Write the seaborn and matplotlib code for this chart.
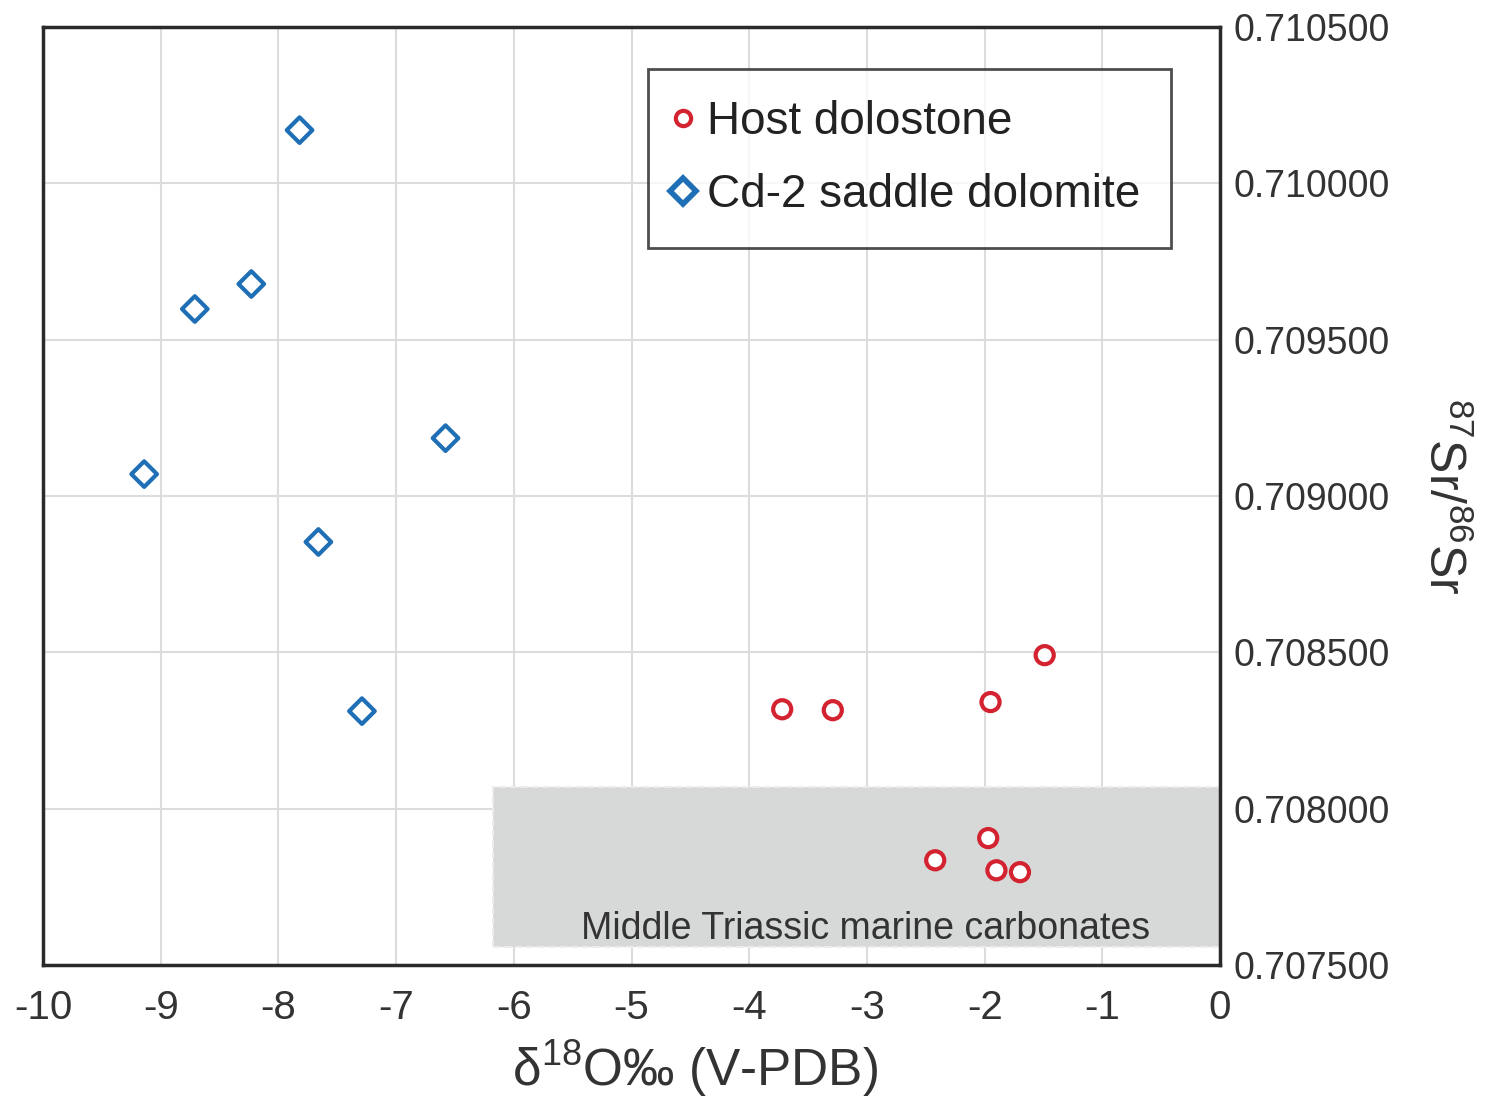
import numpy as np
import pandas as pd
import matplotlib
matplotlib.use("Agg")
import matplotlib.pyplot as plt
import seaborn as sns
from matplotlib.patches import Rectangle
from matplotlib.lines import Line2D

# Data
host_d18o = [-3.72, -3.29, -1.95, -1.49, -1.97, -2.42, -1.90, -1.70]
host_sr = [0.708318, 0.708315, 0.708341, 0.708491, 0.707906, 0.707835, 0.707803, 0.707797]
saddle_d18o = [-9.14, -8.71, -8.23, -7.82, -7.66, -7.29, -6.58]
saddle_sr = [0.709070, 0.709598, 0.709678, 0.710170, 0.708853, 0.708312, 0.709185]
groups = ["Host dolostone", "Cd-2 saddle dolomite"]
x_ticks = [-10, -9, -8, -7, -6, -5, -4, -3, -2, -1, 0]
y_ticks = [0.7075, 0.708, 0.7085, 0.709, 0.7095, 0.71, 0.7105]
band_x = [-6.18, 0.0]
band_y = [0.707557, 0.708069]
band_label = "Middle Triassic marine carbonates"

df = pd.DataFrame({
    "d18O": host_d18o + saddle_d18o,
    "Sr": host_sr + saddle_sr,
    "group": [groups[0]] * len(host_d18o) + [groups[1]] * len(saddle_d18o),
})

sns.set_theme(style="white")
plt.rcParams["font.family"] = ["Liberation Sans", "DejaVu Sans"]
plt.rcParams["mathtext.fontset"] = "custom"
plt.rcParams["mathtext.rm"] = "Liberation Sans"
plt.rcParams["mathtext.it"] = "Liberation Sans"
plt.rcParams["mathtext.bf"] = "Liberation Sans"

fig = plt.figure(figsize=(14.91, 10.96), dpi=100)
ax = fig.add_axes([0.0288, 0.1195, 0.7895, 0.8559])

ax.set_xlim(-10, 0)
ax.set_ylim(0.7075, 0.7105)
ax.set_xticks(x_ticks)
ax.set_yticks(y_ticks)
ax.grid(True, color="#dcdcdc", lw=1.5, zorder=0)
ax.set_axisbelow(True)

ax.add_patch(Rectangle((band_x[0], band_y[0]), band_x[1] - band_x[0], band_y[1] - band_y[0],
                       facecolor="#d7d9d9", edgecolor="#ececec", ls="--", lw=1.5, zorder=1))
ax.text((band_x[0] + band_x[1]) / 2 + 0.08, band_y[0] + 0.000027, band_label,
        ha="center", va="baseline", fontsize=27, color="#333333", zorder=2)

palette = {groups[0]: "#d42330", groups[1]: "#1f6fb6"}
markers = {groups[0]: "o", groups[1]: "D"}
sns.scatterplot(data=df, x="d18O", y="Sr", hue="group", style="group",
                palette=palette, markers=markers, hue_order=groups, style_order=groups,
                s=170, linewidth=3, ax=ax, zorder=3, legend=False)
for coll in ax.collections:
    fc = coll.get_facecolors()
    if len(fc):
        coll.set_edgecolors(fc)
        coll.set_facecolors("white")

handles = [Line2D([], [], marker="o", ls="none", markersize=11, markerfacecolor="white",
                  markeredgecolor=palette[groups[0]], markeredgewidth=3),
           Line2D([], [], marker="D", ls="none", markersize=13, markerfacecolor="white",
                  markeredgecolor=palette[groups[1]], markeredgewidth=4)]
leg = ax.legend(handles, groups, loc="upper left", bbox_to_anchor=(0.514, 0.955),
                fontsize=33, frameon=True, fancybox=False, handletextpad=0.45,
                handlelength=0.15, borderpad=0.68, labelspacing=0.62, borderaxespad=0)
leg.get_frame().set_edgecolor("#222222")
leg.get_frame().set_linewidth(2)
for t in leg.get_texts():
    t.set_color("#222222")

ax.yaxis.tick_right()
ax.yaxis.set_label_position("right")
ax.set_yticklabels([f"{v:.6f}" for v in y_ticks])
ax.set_xticklabels([str(v) for v in x_ticks])
ax.tick_params(axis="y", labelsize=27, colors="#333333", length=0, pad=10)
ax.tick_params(axis="x", labelsize=29, colors="#333333", length=0, pad=17)

for sp in ax.spines.values():
    sp.set_color("#2a2a2a")
    sp.set_linewidth(2.5)

ax.set_xlabel(r"δ$^{18}$O‰ (V-PDB)", fontsize=37, color="#333333")
ax.xaxis.set_label_coords(0.554, -0.078)
ax.set_ylabel(r"$^{87}$Sr/$^{86}$Sr", fontsize=36, color="#333333", rotation=270,
              labelpad=55)

fig.savefig("out.png", dpi=100)
